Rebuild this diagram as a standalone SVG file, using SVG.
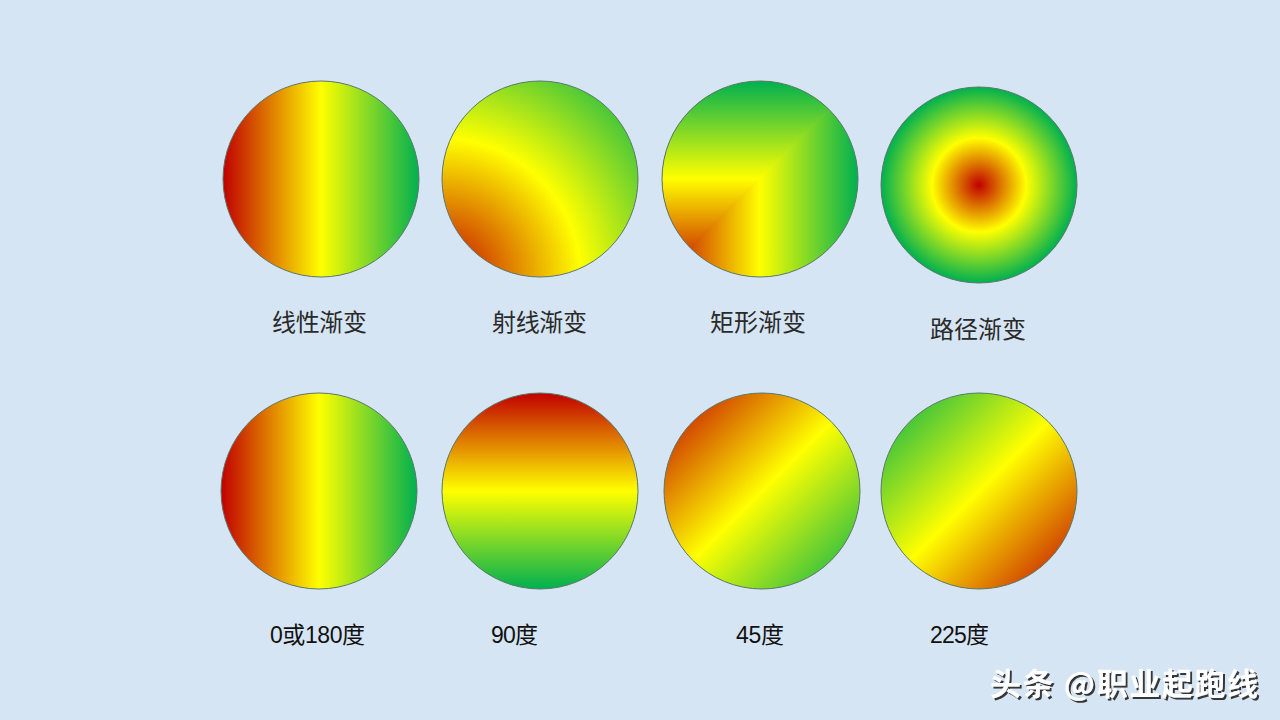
<svg xmlns="http://www.w3.org/2000/svg" width="1280" height="720" viewBox="0 0 1280 720">
<style>
.c{stroke:#5a7868;stroke-width:1}
.lab{font-family:"Noto Sans CJK SC","Liberation Serif",serif;font-size:24px;fill:#2a2a2a;text-anchor:start}
.lab2{font-family:"Liberation Sans","Noto Sans CJK SC",sans-serif;font-size:23px;fill:#111;text-anchor:start}
.wm{font-family:"Noto Sans CJK SC","Liberation Sans",sans-serif;font-size:31px;font-weight:bold}
</style>
<defs>
<linearGradient id="g0" x1="0" y1="0" x2="1" y2="0">
<stop offset="0" stop-color="#c00000"/><stop offset="0.5" stop-color="#ffff00"/><stop offset="1" stop-color="#00b050"/>
</linearGradient>
<linearGradient id="g90" x1="0" y1="0" x2="0" y2="1">
<stop offset="0" stop-color="#c00000"/><stop offset="0.5" stop-color="#ffff00"/><stop offset="1" stop-color="#00b050"/>
</linearGradient>
<linearGradient id="g45" x1="0" y1="0" x2="1" y2="1">
<stop offset="0" stop-color="#c00000"/><stop offset="0.5" stop-color="#ffff00"/><stop offset="1" stop-color="#00b050"/>
</linearGradient>
<linearGradient id="g225" x1="1" y1="1" x2="0" y2="0">
<stop offset="0" stop-color="#c00000"/><stop offset="0.5" stop-color="#ffff00"/><stop offset="1" stop-color="#00b050"/>
</linearGradient>
<radialGradient id="gcorner" gradientUnits="userSpaceOnUse" cx="442" cy="277" r="277">
<stop offset="0" stop-color="#c00000"/><stop offset="0.5" stop-color="#ffff00"/><stop offset="1" stop-color="#00b050"/>
</radialGradient>
<linearGradient id="grV" gradientUnits="userSpaceOnUse" x1="0" y1="277" x2="0" y2="81">
<stop offset="0" stop-color="#c00000"/><stop offset="0.5" stop-color="#ffff00"/><stop offset="1" stop-color="#00b050"/>
</linearGradient>
<linearGradient id="grH" gradientUnits="userSpaceOnUse" x1="662" y1="0" x2="858" y2="0">
<stop offset="0" stop-color="#c00000"/><stop offset="0.5" stop-color="#ffff00"/><stop offset="1" stop-color="#00b050"/>
</linearGradient>
<radialGradient id="gpath" gradientUnits="userSpaceOnUse" cx="979" cy="185" r="98">
<stop offset="0" stop-color="#c00000"/><stop offset="0.48" stop-color="#ffff00"/><stop offset="1" stop-color="#00b050"/>
</radialGradient>
<clipPath id="clip3"><circle cx="760" cy="179" r="98"/></clipPath>
<filter id="sh" x="-5%" y="-20%" width="110%" height="140%">
<feDropShadow dx="2" dy="2" stdDeviation="0.6" flood-color="#222" flood-opacity="0.9"/>
</filter>
</defs>
<rect width="1280" height="720" fill="#d6e5f3"/>

<g id="node-linear">
<circle class="c" cx="321" cy="179" r="98" fill="url(#g0)"/>
<text class="lab" x="272" y="331" textLength="95">线性渐变</text>
</g>
<g id="node-radial">
<circle class="c" cx="540" cy="179" r="98" fill="url(#gcorner)"/>
<text class="lab" x="492" y="331" textLength="95">射线渐变</text>
</g>
<g id="node-rect">
<g clip-path="url(#clip3)">
<rect x="662" y="81" width="196" height="196" fill="url(#grH)"/>
<polygon points="662,277 662,81 858,81" fill="url(#grV)"/>
</g>
<circle class="c" cx="760" cy="179" r="98" fill="none"/>
<text class="lab" x="710" y="331" textLength="96">矩形渐变</text>
</g>
<g id="node-path">
<circle class="c" cx="979" cy="185" r="98" fill="url(#gpath)"/>
<text class="lab" x="930" y="338" textLength="96">路径渐变</text>
</g>

<g id="node-0">
<circle class="c" cx="319" cy="491" r="98" fill="url(#g0)"/>
<text class="lab2" x="270" y="643" textLength="95">0或180度</text>
</g>
<g id="node-90">
<circle class="c" cx="540" cy="491" r="98" fill="url(#g90)"/>
<text class="lab2" x="491" y="643" textLength="47">90度</text>
</g>
<g id="node-45">
<circle class="c" cx="762" cy="491" r="98" fill="url(#g45)"/>
<text class="lab2" x="736" y="643" textLength="48">45度</text>
</g>
<g id="node-225">
<circle class="c" cx="979" cy="491" r="98" fill="url(#g225)"/>
<text class="lab2" x="930" y="643" textLength="59">225度</text>
</g>

<g id="watermark">
<text class="wm" x="990" y="695" fill="#ffffff" filter="url(#sh)" textLength="268">头条 @职业起跑线</text>
</g>
</svg>
